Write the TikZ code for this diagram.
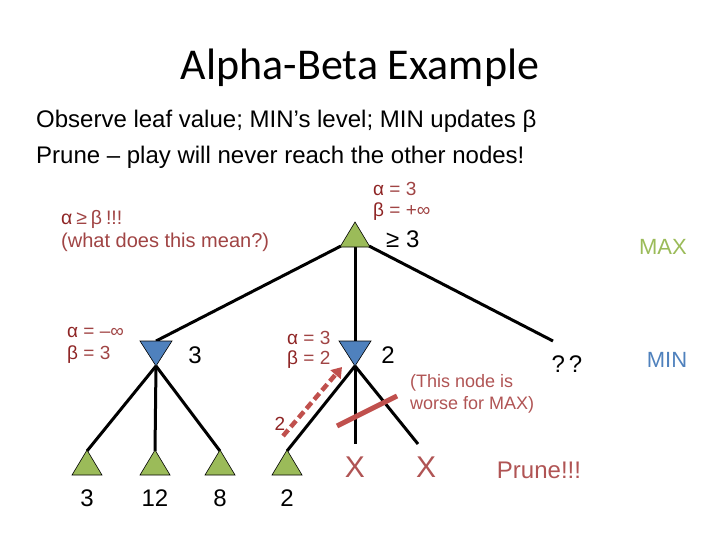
\documentclass[tikz,border=0pt]{standalone}
\usepackage{fontspec}
\setmainfont{Liberation Sans}
\newfontfamily\titlefont{Carlito}
\usetikzlibrary{arrows.meta}
\definecolor{maxgreen}{HTML}{9BBB59}
\definecolor{minblue}{HTML}{4F81BD}
\definecolor{darkred}{HTML}{8E2424}
\definecolor{midred}{HTML}{A04444}
\definecolor{lightred}{HTML}{B05454}
\definecolor{accentred}{HTML}{C0504D}
\newcommand\fs[1]{\fontsize{#1}{#1}\selectfont}
\newcommand\gk[1]{\textcolor{darkred}{#1}}
\tikzset{
  edge/.style={line width=3pt, black},
  lbl/.style={inner sep=0pt, anchor=west, text=midred, font=\fs{19}},
  num/.style={inner sep=0pt, font=\fs{24}},
  note/.style={inner sep=0pt, anchor=west, text=lightred, font=\fs{18}},
  maxtri/.pic={
    \filldraw[fill=maxgreen, draw=black, line width=0.6pt] (0,0) -- (-15,25) -- (15,25) -- cycle;
    \coordinate (-apex) at (0,0);
    \coordinate (-bl) at (-15,25);
    \coordinate (-bc) at (0,25);
    \coordinate (-br) at (15,25);
  },
  mintri/.pic={
    \filldraw[fill=minblue, draw=black, line width=0.6pt] (0,0) -- (-16,-25) -- (16,-25) -- cycle;
    \coordinate (-apex) at (0,0);
    \coordinate (-top) at (0,-25);
  },
}
\begin{document}
\begin{tikzpicture}[x=1pt,y=-1pt]
\useasboundingbox (0,0) rectangle (720,540);
% titles
\node[inner sep=0pt, font=\titlefont\fs{44}] (title) at (360,68) {Alpha-Beta Example};
\node[inner sep=0pt, anchor=west, font=\fs{24}] (line1) at (36,121) {Observe leaf value; MIN’s level; MIN updates β};
\node[inner sep=0pt, anchor=west, font=\fs{24}] (line2) at (36,157) {Prune – play will never reach the other nodes!};
% coordinates
\coordinate (lmtop) at (156,341);
\coordinate (mmtop) at (355,341);
\coordinate (rfree) at (553,341);
\coordinate (vfree) at (355,444);
\coordinate (dfree) at (418,444);
% triangle positions for edges
\coordinate (rbl) at (341,246);
\coordinate (rbc) at (355,246);
\coordinate (rbr) at (369,246);
\coordinate (lmap) at (156,366);
\coordinate (mmap) at (355,366);
\coordinate (a1) at (87,451);
\coordinate (a2) at (155,451);
\coordinate (a3) at (220,451);
\coordinate (a4) at (287,451);
% edges
\draw[edge] (rbl) -- (lmtop);
\draw[edge] (rbc) -- (mmtop);
\draw[edge] (rbr) -- (rfree);
\draw[edge] (lmap) -- (a1);
\draw[edge] (lmap) -- (a2);
\draw[edge] (lmap) -- (a3);
\draw[edge] (mmap) -- (a4);
\draw[edge] (mmap) -- (vfree);
\draw[edge] (mmap) -- (dfree);
% triangles
\pic (r) at (355,222) {maxtri};
\pic (lm) at (156,366) {mintri};
\pic (mm) at (355,366) {mintri};
\pic (l1) at (87,450) {maxtri};
\pic (l2) at (155,450) {maxtri};
\pic (l3) at (220,450) {maxtri};
\pic (l4) at (287,450) {maxtri};
% leaf values
\node[num] (v1) at (87,498) {3};
\node[num] (v2) at (155,498) {12};
\node[num] (v3) at (220,498) {8};
\node[num] (v4) at (287,498) {2};
% node values
\node[num, anchor=west] (rv) at (386,239) {≥ 3};
\node[num] (lmv) at (195,355) {3};
\node[num] (mmv) at (388,355) {2};
\node[num] (qq) at (567,364) {?\,?};
% level labels
\node[inner sep=0pt, text=maxgreen, font=\fs{22}] (maxl) at (663,247) {MAX};
\node[inner sep=0pt, text=minblue, font=\fs{22}] (minl) at (667,360) {MIN};
% alpha beta labels
\node[lbl] (ra) at (373,189) {\gk{α} = 3};
\node[lbl] (rb) at (373,212) {\gk{β} = +∞};
\node[lbl] (la) at (67,332) {\gk{α} = –∞};
\node[lbl] (lb) at (67,355) {\gk{β} = 3};
\node[lbl] (ma) at (287,338) {\gk{α} = 3};
\node[lbl] (mb) at (287,360) {\gk{β} = 2};
\node[inner sep=0pt, anchor=west, text=midred, font=\fs{19.5}] (ab) at (61,219) {\textcolor{darkred}{α}\hspace{0.2em}≥\hspace{0.2em}β\hspace{0.2em}!!!};
\node[inner sep=0pt, anchor=west, text=midred, font=\fs{20}] (mean) at (61,242) {(what does this mean?)};
\node[note] (n1) at (410,383) {(This node is};
\node[note] (n2) at (410,405) {worse for MAX)};
% prune marks
\coordinate (as) at (283,436);
\coordinate (ae) at (342,367);
\draw[accentred, line width=4.5pt, dash pattern=on 8pt off 4pt, -{Triangle[length=10pt,width=13pt]}] (as) -- (ae);
\node[inner sep=0pt, text=darkred, font=\fs{19}] (two) at (280,424) {2};
\coordinate (s1) at (337,426);
\coordinate (s2) at (397,396);
\draw[accentred, line width=5pt] (s1) -- (s2);
\node[inner sep=0pt, text=lightred, font=\fs{30}] (x1) at (355,467) {X};
\node[inner sep=0pt, text=lightred, font=\fs{30}] (x2) at (426,467) {X};
\node[inner sep=0pt, text=lightred, font=\fs{24}] (prune) at (539,470) {Prune!!!};
\end{tikzpicture}
\end{document}
